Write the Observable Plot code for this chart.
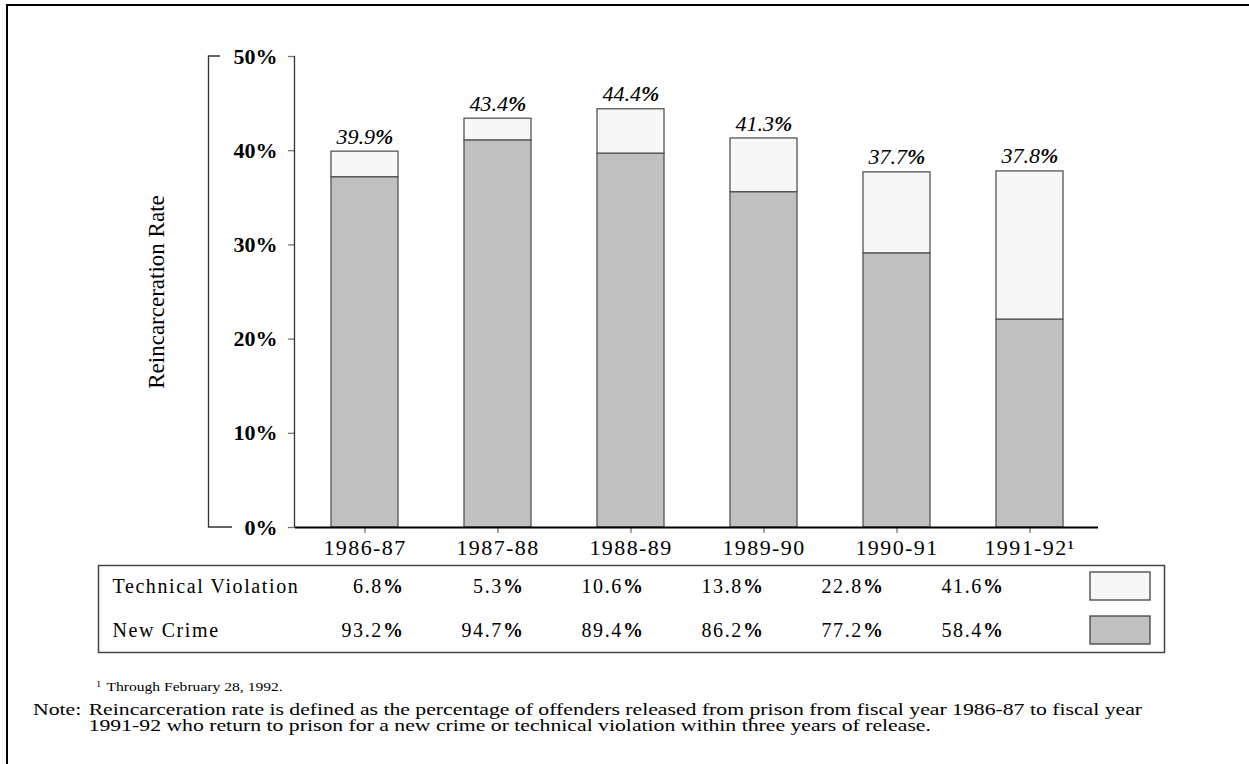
<!DOCTYPE html>
<html>
<head>
<meta charset="utf-8">
<script src="https://cdn.jsdelivr.net/npm/d3@7"></script>
<script src="https://cdn.jsdelivr.net/npm/@observablehq/plot@0.6"></script>
<style>
  html, body { margin: 0; padding: 0; background: #fff; overflow: hidden; }
  #page { position: relative; width: 1249px; height: 764px; overflow: hidden;
          font-family: "Liberation Serif", "Times New Roman", serif; color: #000; }
  #border { position: absolute; left: 6px; top: 4px; width: 1300px; height: 820px;
            border: 2px solid #000; box-sizing: border-box; }
  #chart { position: absolute; left: 0; top: 0; }
  #table { position: absolute; left: 0; top: 545px; }
  #footnote { position: absolute; left: 96px; top: 677px; font-size: 12px; line-height: 16px; white-space: nowrap;
              transform-origin: 0 0; transform: scaleX(1.3); }
  #footnote sup { font-size: 8px; vertical-align: 4px; margin-right: 4px; }
  #note { position: absolute; left: 33px; top: 702px; font-size: 16px; line-height: 16px; display: flex;
          white-space: nowrap; transform-origin: 0 0; }
  #note .tag { width: 41px; }
</style>
</head>
<body>
<div id="page">
  <div id="border"></div>
  <div id="chart"></div>
  <div id="table"></div>
  <div id="footnote"><sup>1</sup>Through February 28, 1992.</div>
  <div id="note">
    <div class="tag">Note:</div>
    <div class="body">
      <div>Reincarceration rate is defined as the percentage of offenders released from prison from fiscal year 1986-87 to fiscal year</div>
      <div>1991-92 who return to prison for a new crime or technical violation within three years of release.</div>
    </div>
  </div>
</div>
<script>
// Release cohorts (fiscal years) and their three-year reincarceration rates
const years = ["1986-87", "1987-88", "1988-89", "1989-90", "1990-91", "1991-92"];
const totalRate = [39.9, 43.4, 44.4, 41.3, 37.7, 37.8];
// Share of returns by reason (percent of all returns)
const technicalShare = [6.8, 5.3, 10.6, 13.8, 22.8, 41.6];
const newCrimeShare = [93.2, 94.7, 89.4, 86.2, 77.2, 58.4];
const yTicks = [0, 10, 20, 30, 40, 50];
const footnotedYear = "1991-92";
// Stack order, bottom to top, and matching fills
const categories = ["New Crime", "Technical Violation"];
const fills = ["#c0c0c0", "#f7f7f7"];
const rowLabels = ["Technical Violation", "New Crime"];

const segments = years.flatMap((year, i) => [
  {year, type: "New Crime", value: totalRate[i] * newCrimeShare[i] / 100},
  {year, type: "Technical Violation", value: totalRate[i] * technicalShare[i] / 100}
]);
const totals = years.map((year, i) => ({year, total: totalRate[i]}));

const pct = v => v.toFixed(1) + "%";

const chart = Plot.plot({
  width: 1249,
  height: 570,
  marginLeft: 295,
  marginRight: 151,
  marginTop: 56,
  marginBottom: 43,
  style: {fontFamily: "'Liberation Serif', serif", fontSize: "22px", background: "transparent", color: "#000", overflow: "visible"},
  x: {domain: years, paddingInner: 0.5, paddingOuter: 0.25, label: null, tickSize: 6, tickPadding: 6,
      tickFormat: d => d === footnotedYear ? d + "\u00b9" : d},
  y: {domain: [0, 50], ticks: yTicks, tickFormat: d => d + "%", tickSize: 7, tickPadding: 11, label: null},
  color: {domain: categories, range: fills},
  marks: [
    Plot.barY(segments, {x: "year", y: "value", fill: "type", order: categories, stroke: "#555", strokeWidth: 1.3}),
    Plot.ruleY([0], {stroke: "#000", strokeWidth: 2}),
    Plot.text(totals, {x: "year", y: "total", text: d => pct(d.total), dy: -15, fontStyle: "italic", fontSize: 22, letterSpacing: 0.6}),
    Plot.text(["Reincarceration Rate"], {text: d => d, frameAnchor: "left", textAnchor: "middle", dx: -139, rotate: -90, fontSize: 23})
  ]
});
document.getElementById("chart").appendChild(chart);

// Breakdown table under the chart, one row per reason
const rowShares = [technicalShare, newCrimeShare];
const cells = rowLabels.flatMap((row, r) => years.map((year, i) => ({row, year, share: rowShares[r][i]})));

const table = Plot.plot({
  width: 1249,
  height: 120,
  marginLeft: 98,
  marginRight: 85,
  marginTop: 20,
  marginBottom: 13,
  style: {fontFamily: "'Liberation Serif', serif", fontSize: "20px", letterSpacing: "1.6px", background: "transparent", color: "#000"},
  x: {domain: years, type: "point", padding: 0, range: [402, 1005], axis: null},
  y: {domain: rowLabels, type: "point", padding: 0, range: [41, 85], axis: null},
  marks: [
    Plot.frame({stroke: "#444", strokeWidth: 1.5}),
    Plot.text(cells, {x: "year", y: "row", text: d => pct(d.share), textAnchor: "end"}),
    Plot.text(rowLabels, {y: d => d, text: d => d, frameAnchor: "left", dx: 14, textAnchor: "start"})
  ]
});
document.getElementById("table").appendChild(table);

// Axis styling: grey tick marks, bold y tick labels
function styleAxes(svg) {
  svg.querySelectorAll("g[aria-label^='x-axis'], g[aria-label^='y-axis']").forEach(g => {
    g.querySelectorAll("line, path").forEach(el => { el.setAttribute("stroke", "#777"); el.setAttribute("stroke-width", "1.3"); });
    const isY = g.getAttribute("aria-label").startsWith("y-axis");
    g.querySelectorAll("text").forEach(el => {
      el.setAttribute("fill", "#000");
      el.setAttribute("font-size", "22");
      if (isY) el.setAttribute("font-weight", "bold");
      else el.setAttribute("letter-spacing", "1.4");
    });
  });
}
// Percent signs are set in bold
function boldPercent(svg) {
  Array.from(svg.querySelectorAll("text, tspan")).forEach(el => {
    if (el.children.length) return;
    const s = el.textContent;
    if (!s.endsWith("%")) return;
    el.textContent = s.slice(0, -1);
    const t = document.createElementNS("http://www.w3.org/2000/svg", "tspan");
    t.setAttribute("font-weight", "bold");
    t.textContent = "%";
    el.appendChild(t);
  });
}
styleAxes(chart);
boldPercent(chart);
boldPercent(table);

// Y axis line and the bracket framing the tick labels
const ys = chart.scale("y");
const y = v => ys.apply(v);
const svg = d3.select(chart);
svg.append("line")
  .attr("x1", 294.5).attr("x2", 294.5).attr("y1", y(50)).attr("y2", y(0))
  .attr("stroke", "#333").attr("stroke-width", 1.3);
svg.append("path")
  .attr("d", `M220,${y(50)}H208.5V${y(0)}H232`)
  .attr("fill", "none").attr("stroke", "#333").attr("stroke-width", 1.3);

// Legend swatches at the end of each table row
const ty = table.scale("y");
d3.select(table).selectAll("rect.swatch")
  .data(rowLabels)
  .join("rect")
  .attr("class", "swatch")
  .attr("x", 1090).attr("width", 60)
  .attr("y", d => ty.apply(d) - 14).attr("height", 28)
  .attr("fill", d => fills[categories.indexOf(d)])
  .attr("stroke", "#444").attr("stroke-width", 1.3);

// The note is set wide: stretch it so its first line ends under the table's right edge
const note = document.getElementById("note");
const natural = note.getBoundingClientRect().width;
note.style.transform = `scaleX(${(1142 - 33) / natural})`;
</script>
</body>
</html>
